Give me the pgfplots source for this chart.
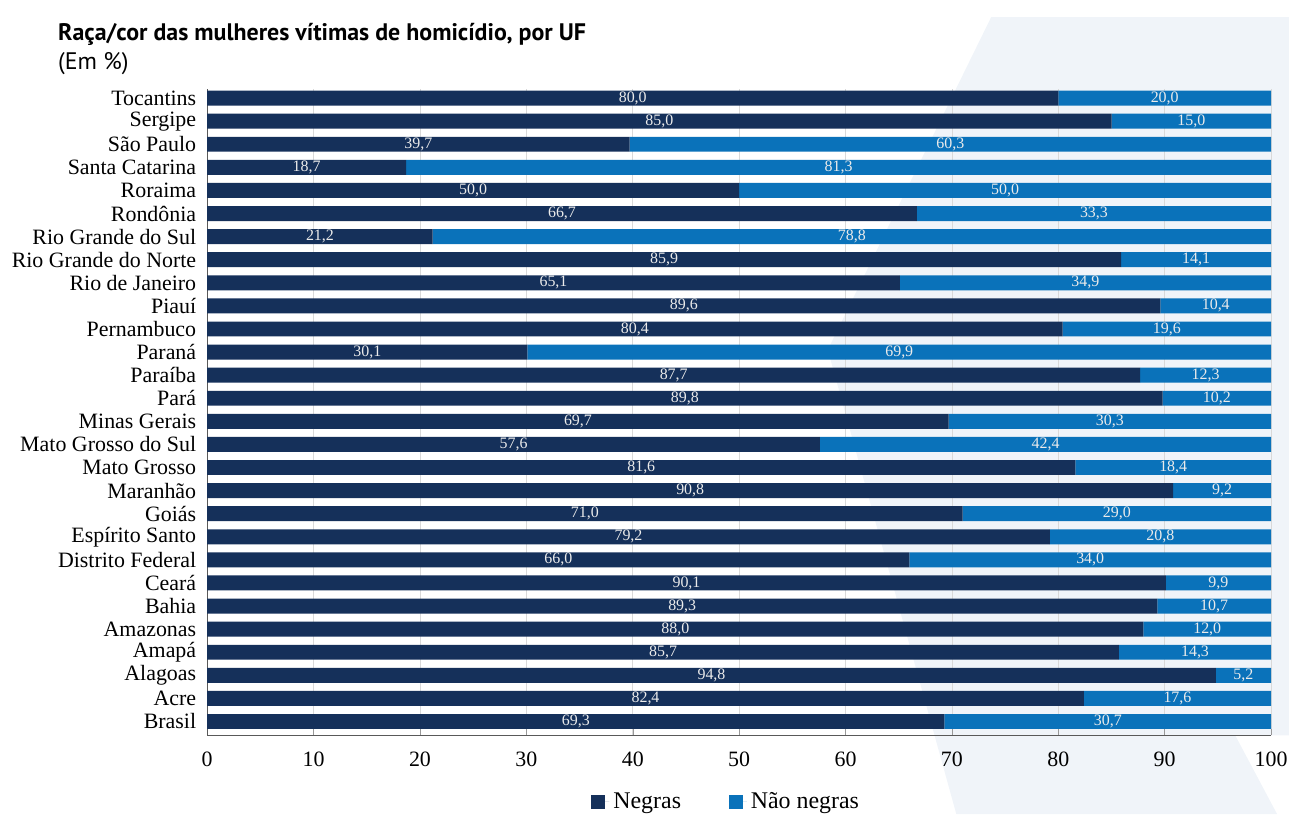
\documentclass[border=0pt]{standalone}
\usepackage{fontspec}
\setmainfont{Liberation Serif}
\newfontfamily\titlefont{PT Sans}
\usepackage{pgfplots}
\usepackage{pgfplotstable}
\pgfplotsset{compat=1.18}
\definecolor{negra}{HTML}{15305A}
\definecolor{naonegra}{HTML}{0A72BA}
\definecolor{wm}{HTML}{F0F4F9}
\pgfplotstableread{
y n nn
0 69.3 30.7
1 82.4 17.6
2 94.8 5.2
3 85.7 14.3
4 88.0 12.0
5 89.3 10.7
6 90.1 9.9
7 66.0 34.0
8 79.2 20.8
9 71.0 29.0
10 90.8 9.2
11 81.6 18.4
12 57.6 42.4
13 69.7 30.3
14 89.8 10.2
15 87.7 12.3
16 30.1 69.9
17 80.4 19.6
18 89.6 10.4
19 65.1 34.9
20 85.9 14.1
21 21.2 78.8
22 66.7 33.3
23 50.0 50.0
24 18.7 81.3
25 39.7 60.3
26 85.0 15.0
27 80.0 20.0
}\datatable
\begin{document}
\begin{tikzpicture}
\useasboundingbox (-104pt,-39.5pt) rectangle (543pt,369.1pt);
\fill[wm] (393.5pt,360.5pt) -- (543pt,360.5pt) -- (543pt,0pt) -- (516pt,0pt) -- (537pt,-39.5pt) -- (376pt,-39.5pt) -- (311.5pt,193.5pt) -- cycle;
\node[anchor=base west,inner sep=0pt,font=\titlefont\bfseries\fontsize{12}{14}\selectfont] at (-75pt,349pt) {Raça/cor das mulheres vítimas de homicídio, por UF};
\node[anchor=base west,inner sep=0pt,font=\titlefont\fontsize{12}{14}\selectfont] at (-75pt,334pt) {(Em \%)};
\begin{axis}[
  at={(0,0)}, anchor=south west,
  scale only axis, width=534pt, height=324.5pt,
  xbar stacked, bar width=7.5pt,
  xmin=0, xmax=100, ymin=-0.6, ymax=27.4,
  axis lines*=left, axis line style={black!65,-},
  xtick={0,10,...,100},
  ytick={0,...,27},
  yticklabels={Brasil,Acre,Alagoas,Amapá,Amazonas,Bahia,Ceará,Distrito Federal,Espírito Santo,Goiás,Maranhão,Mato Grosso,Mato Grosso do Sul,Minas Gerais,Pará,Paraíba,Paraná,Pernambuco,Piauí,Rio de Janeiro,Rio Grande do Norte,Rio Grande do Sul,Rondônia,Roraima,Santa Catarina,São Paulo,Sergipe,Tocantins},
  /pgf/number format/assume math mode=true,
  yticklabel style={font=\fontsize{11}{12}\selectfont, xshift=-2pt},
  xticklabel style={font=\fontsize{11}{12}\selectfont, yshift=-5pt},
  y tick style={draw=none},
  x tick style={black!40},
  major tick length=3pt,
  xmajorgrids, major grid style={black!15},
  legend style={at={(0.4888,-0.103)}, anchor=center, draw=none, fill=none, legend columns=2,
     font=\fontsize{12}{14}\selectfont,
     /tikz/every even column/.append style={column sep=22pt}},
  legend image code/.code={\fill[#1] (0pt,-3.5pt) rectangle (7pt,3.5pt); \path (0pt,0pt) -- (9pt,0pt);},
]
\addplot[fill=negra, draw=none] table[x=n,y=y]{\datatable};
\addplot[fill=naonegra, draw=none] table[x=nn,y=y]{\datatable};
\legend{Negras, Não negras}
\end{axis}
\begin{axis}[
  at={(0,0)}, anchor=south west,
  scale only axis, width=534pt, height=324.5pt,
  xmin=0, xmax=100, ymin=-0.6, ymax=27.4,
  hide axis,
  nodes near coords, point meta=explicit,
  every node near coord/.append style={anchor=center, text=white!92!black,
     font=\fontsize{8}{9}\selectfont,
     /pgf/number format/.cd, fixed, fixed zerofill, precision=1, use comma, assume math mode=true},
]
\addplot[only marks, mark=none] table[x expr=\thisrow{n}/2, y=y, meta=n]{\datatable};
\addplot[only marks, mark=none] table[x expr=(100+\thisrow{n})/2, y=y, meta=nn]{\datatable};
\end{axis}
\end{tikzpicture}
\end{document}
